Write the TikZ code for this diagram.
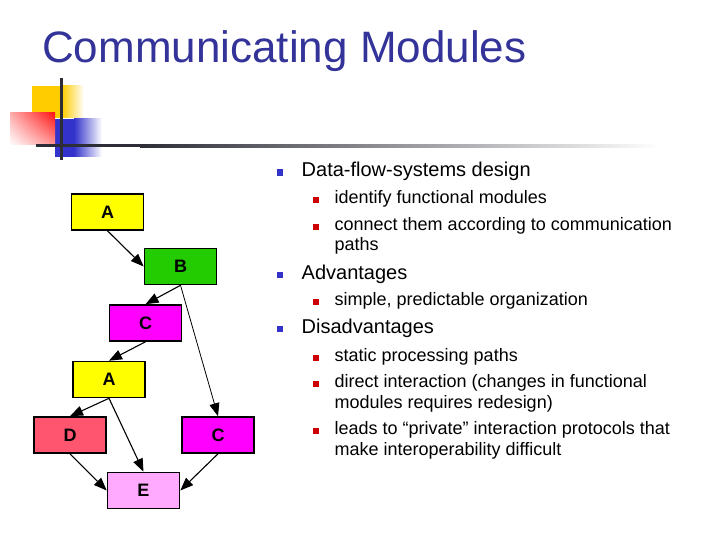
\documentclass[tikz,border=0pt]{standalone}
\usepackage{fontspec}
\setmainfont{Liberation Sans}
\usetikzlibrary{arrows.meta,shadings}
\definecolor{titleblue}{RGB}{51,51,153}
\definecolor{bulblue}{RGB}{51,51,204}
\definecolor{bulred}{RGB}{204,0,0}
\definecolor{decoyellow}{RGB}{255,204,0}
\definecolor{decored}{RGB}{255,20,20}
\definecolor{decoblue}{RGB}{51,51,204}
\definecolor{decoline}{RGB}{45,45,55}
\definecolor{myyellow}{RGB}{255,255,0}
\definecolor{mygreen}{RGB}{34,204,0}
\definecolor{mymagenta}{RGB}{255,0,255}
\definecolor{myred}{RGB}{255,85,110}
\definecolor{mypink}{RGB}{255,170,255}
\tikzset{
  modbox/.style={draw=black, line width=1.6pt, minimum width=72pt, minimum height=36pt, inner sep=0pt, font=\bfseries\fontsize{18}{18}\selectfont},
  flow/.style={draw=black, line width=1.1pt, -{Triangle[length=13pt,width=10pt]}},
  lvlone/.style={anchor=base west, inner sep=0pt, font=\fontsize{20}{20}\selectfont},
  lvltwo/.style={anchor=base west, inner sep=0pt, font=\fontsize{18}{18}\selectfont},
  bulone/.style={fill=bulblue, minimum size=6.5pt, inner sep=0pt},
  bultwo/.style={fill=bulred, minimum size=6pt, inner sep=0pt}
}
\begin{document}
\begin{tikzpicture}[x=1pt,y=-1pt]
\useasboundingbox (0,0) rectangle (720,540);
% decoration
\fill[decoyellow] (32,86) rectangle (62,118);
\shade[left color=decoyellow, right color=white] (62,86) rectangle (84,118);
\fill[decoblue] (55,119) rectangle (74,157);
\shade[left color=decoblue, right color=white] (74,119) rectangle (102,157);
\shade[upper left=decored!35, upper right=decored, lower left=white, lower right=decored!45] (10,113) rectangle (55,145);
\fill[decoline] (60.2,78) rectangle (63.2,160);
\fill[decoline] (36,144.2) rectangle (140,147.2);
\shade[left color=decoline, right color=white] (140,144.2) rectangle (660,147.2);
% title
\node[anchor=base west, inner sep=0pt, text=titleblue, font=\fontsize{44}{44}\selectfont] (title) at (42,62.7) {Communicating Modules};
% graph
\node[modbox, fill=myyellow] (a1) at (107.5,212) {A};
\node[modbox, fill=mygreen] (b) at (180.5,266.5) {B};
\node[modbox, fill=mymagenta] (c1) at (145.5,323) {C};
\node[modbox, fill=myyellow] (a2) at (109,379.5) {A};
\node[modbox, fill=myred] (d) at (70,435) {D};
\node[modbox, fill=mymagenta] (c2) at (218,435) {C};
\node[modbox, fill=mypink] (e) at (143.5,490.5) {E};
\draw[flow] (a1.south) -- (b.west);
\draw[flow] (b.south) -- (c1.north);
\draw[flow, line width=0.8pt] (b.south) -- (c2.north);
\draw[flow] (c1.south) -- (a2.north);
\draw[flow] (a2.south) -- (d.north);
\draw[flow] (a2.south) -- (e.north);
\draw[flow] (d.south) -- (e.west);
\draw[flow] (c2.south) -- (e.east);
% bullets
\node[bulone] (b1) at (280,172.4) {};
\node[lvlone] (t1) at (301.5,176.7) {Data-flow-systems design};
\node[bultwo] (b11) at (316.3,200.3) {};
\node[lvltwo] (t11) at (334.5,203.3) {identify functional modules};
\node[bultwo] (b12) at (316.3,227) {};
\node[lvltwo] (t12) at (334.5,230) {connect them according to communication};
\node[lvltwo] (t12b) at (334.5,250.5) {paths};
\node[bulone] (b2) at (280,275) {};
\node[lvlone] (t2) at (301.5,279.3) {Advantages};
\node[bultwo] (b21) at (316.3,302) {};
\node[lvltwo] (t21) at (334.5,305) {simple, predictable organization};
\node[bulone] (b3) at (280,329) {};
\node[lvlone] (t3) at (301.5,333.3) {Disadvantages};
\node[bultwo] (b31) at (316.3,358) {};
\node[lvltwo] (t31) at (334.5,361) {static processing paths};
\node[bultwo] (b32) at (316.3,384.3) {};
\node[lvltwo] (t32) at (334.5,387.3) {direct interaction (changes in functional};
\node[lvltwo] (t32b) at (334.5,408.3) {modules requires redesign)};
\node[bultwo] (b33) at (316.3,431.3) {};
\node[lvltwo] (t33) at (334.5,434.3) {leads to “private” interaction protocols that};
\node[lvltwo] (t33b) at (334.5,455.3) {make interoperability difficult};
\end{tikzpicture}
\end{document}
